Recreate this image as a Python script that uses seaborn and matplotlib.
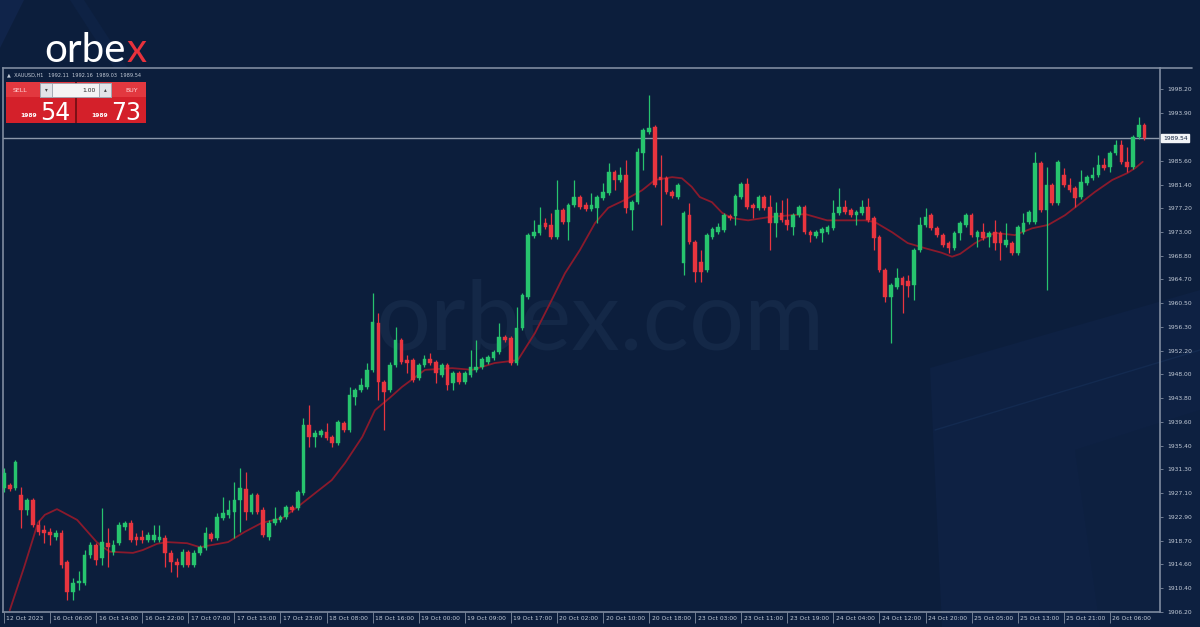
import numpy as np
import pandas as pd
import matplotlib
matplotlib.use("Agg")
import matplotlib.pyplot as plt
import seaborn as sns
from matplotlib.patches import Polygon, Rectangle
from matplotlib.lines import Line2D
from matplotlib.transforms import ScaledTranslation

# ---------------- data (XAUUSD H1) ----------------
opens = [1928.0, 1928.5, 1928.0, 1926.8, 1924.1, 1925.9, 1921.5, 1920.6, 1920.3, 1919.4,
         1920.1, 1915.0, 1909.7, 1911.3, 1911.3, 1916.2, 1918.0, 1915.7, 1918.3, 1916.8,
         1918.3, 1921.2, 1921.9, 1919.4, 1919.4, 1918.9, 1918.9, 1918.9, 1919.2, 1916.6,
         1915.0, 1914.5, 1916.8, 1914.5, 1916.6, 1917.5, 1919.9, 1919.2, 1922.7, 1923.3,
         1923.8, 1925.9, 1927.8, 1923.8, 1926.8, 1924.1, 1919.4, 1921.9, 1922.4, 1922.9,
         1924.7, 1924.5, 1927.1, 1939.1, 1937.0, 1937.3, 1937.9, 1937.0, 1935.9, 1939.5,
         1938.2, 1944.0, 1945.3, 1945.8, 1948.8, 1957.0, 1946.7, 1945.3, 1949.6, 1954.0,
         1950.5, 1950.5, 1947.4, 1949.6, 1950.7, 1950.2, 1947.9, 1949.6, 1946.5, 1948.2,
         1946.7, 1947.9, 1948.8, 1949.3, 1950.2, 1950.9, 1952.0, 1954.6, 1954.4, 1950.0,
         1956.2, 1961.6, 1972.3, 1972.9, 1974.6, 1974.3, 1972.2, 1976.9, 1974.8, 1977.8,
         1979.2, 1977.8, 1977.1, 1977.3, 1979.0, 1979.9, 1983.6, 1982.2, 1983.1, 1976.9,
         1978.3, 1986.9, 1990.6, 1991.5, 1982.7, 1982.5, 1980.1, 1979.2, 1967.6, 1976.0,
         1971.3, 1967.8, 1966.4, 1972.2, 1973.0, 1973.4, 1975.9, 1975.9, 1979.2, 1981.5,
         1977.8, 1977.3, 1979.2, 1977.4, 1974.6, 1976.4, 1975.1, 1973.9, 1976.0, 1977.4,
         1973.0, 1972.3, 1972.9, 1973.0, 1973.7, 1976.4, 1977.4, 1976.9, 1976.0, 1976.4,
         1977.4, 1975.5, 1972.2, 1966.4, 1961.6, 1963.4, 1965.0, 1964.4, 1963.7, 1969.9,
         1974.3, 1976.0, 1973.7, 1972.5, 1971.1, 1970.2, 1972.9, 1974.3, 1976.0, 1972.2,
         1973.0, 1972.2, 1973.0, 1972.9, 1970.8, 1971.1, 1969.4, 1973.0, 1974.8, 1974.8,
         1985.2, 1976.9, 1981.3, 1978.1, 1983.1, 1981.3, 1980.8, 1979.2, 1981.7, 1982.5,
         1983.1, 1984.8, 1984.5, 1986.9, 1988.4, 1985.4, 1984.5, 1989.8, 1991.9]
highs = [1931.5, 1928.9, 1932.9, 1928.2, 1926.3, 1926.3, 1922.4, 1921.5, 1921.0, 1920.6,
         1920.6, 1915.4, 1912.2, 1913.4, 1917.1, 1918.5, 1918.3, 1924.5, 1921.0, 1918.9,
         1922.0, 1922.2, 1922.4, 1920.1, 1920.6, 1920.3, 1921.5, 1921.5, 1919.8, 1917.1,
         1915.7, 1917.3, 1917.1, 1917.1, 1918.0, 1921.2, 1920.3, 1923.6, 1926.4, 1925.9,
         1929.1, 1931.5, 1930.8, 1927.1, 1927.1, 1924.7, 1922.4, 1924.7, 1923.3, 1925.0,
         1925.0, 1927.6, 1940.3, 1942.6, 1938.2, 1938.4, 1939.5, 1937.3, 1940.0, 1939.8,
         1945.8, 1945.6, 1947.4, 1950.0, 1962.3, 1958.8, 1947.0, 1950.2, 1956.3, 1954.4,
         1951.4, 1950.9, 1950.0, 1951.4, 1951.8, 1950.5, 1950.0, 1950.0, 1948.6, 1948.6,
         1948.6, 1952.3, 1954.0, 1951.1, 1951.4, 1952.3, 1957.0, 1954.9, 1954.7, 1959.9,
         1962.3, 1972.9, 1975.1, 1977.4, 1975.5, 1976.4, 1982.2, 1977.3, 1978.1, 1982.2,
         1979.6, 1978.3, 1979.9, 1979.6, 1981.7, 1985.2, 1983.9, 1984.5, 1985.7, 1978.7,
         1987.8, 1991.3, 1997.2, 1991.9, 1986.6, 1982.9, 1980.4, 1981.7, 1976.7, 1978.1,
         1971.6, 1969.9, 1972.9, 1973.9, 1974.6, 1976.4, 1976.2, 1979.7, 1981.8, 1982.5,
         1978.1, 1979.6, 1979.6, 1979.6, 1978.3, 1978.7, 1979.0, 1976.4, 1977.8, 1977.8,
         1973.4, 1973.4, 1973.9, 1974.3, 1978.7, 1980.8, 1978.7, 1977.3, 1976.9, 1978.7,
         1979.0, 1975.9, 1972.5, 1966.7, 1964.1, 1966.7, 1965.3, 1965.5, 1970.2, 1975.7,
         1977.3, 1976.4, 1974.1, 1972.9, 1971.5, 1973.2, 1975.0, 1976.4, 1976.4, 1973.4,
         1974.6, 1973.2, 1975.1, 1973.2, 1974.6, 1971.5, 1974.3, 1976.4, 1976.9, 1987.1,
         1985.5, 1984.5, 1981.7, 1985.7, 1984.3, 1982.5, 1981.1, 1983.9, 1983.1, 1984.5,
         1986.6, 1986.1, 1987.3, 1989.2, 1989.2, 1988.0, 1990.1, 1993.3, 1992.2]
lows = [1927.3, 1927.5, 1927.6, 1921.0, 1923.3, 1921.2, 1919.8, 1918.3, 1918.0, 1918.9,
        1913.9, 1908.3, 1908.3, 1910.1, 1911.0, 1915.7, 1914.5, 1914.5, 1914.1, 1916.2,
        1918.0, 1920.6, 1918.5, 1918.0, 1918.3, 1918.5, 1918.5, 1918.5, 1914.1, 1913.2,
        1912.4, 1914.1, 1914.1, 1914.1, 1916.2, 1917.1, 1918.7, 1918.9, 1922.4, 1922.7,
        1919.2, 1920.3, 1922.4, 1923.4, 1923.4, 1919.4, 1918.9, 1921.5, 1922.0, 1922.6,
        1923.8, 1924.1, 1926.8, 1935.2, 1935.2, 1937.0, 1936.5, 1935.2, 1935.6, 1937.9,
        1937.9, 1942.6, 1944.9, 1945.4, 1948.4, 1943.5, 1938.2, 1944.9, 1949.3, 1949.8,
        1948.2, 1946.7, 1947.0, 1949.3, 1949.6, 1946.5, 1947.5, 1945.3, 1945.3, 1946.3,
        1946.3, 1947.5, 1948.4, 1949.0, 1949.8, 1950.5, 1951.6, 1953.7, 1949.6, 1949.6,
        1955.8, 1961.3, 1972.0, 1972.5, 1973.6, 1971.8, 1971.8, 1974.5, 1971.6, 1977.4,
        1977.1, 1976.7, 1976.7, 1974.6, 1978.7, 1979.6, 1980.4, 1981.8, 1976.4, 1973.4,
        1978.0, 1983.9, 1990.3, 1981.0, 1974.3, 1979.7, 1979.0, 1978.9, 1965.5, 1971.0,
        1964.3, 1964.3, 1966.0, 1971.8, 1972.7, 1973.0, 1975.1, 1974.3, 1978.9, 1977.1,
        1975.5, 1976.9, 1976.9, 1969.9, 1972.2, 1974.8, 1973.4, 1972.5, 1975.7, 1972.7,
        1971.3, 1972.0, 1971.3, 1972.7, 1973.4, 1976.0, 1976.2, 1975.7, 1974.3, 1976.0,
        1974.8, 1969.9, 1966.0, 1960.7, 1953.5, 1963.0, 1958.8, 1961.6, 1961.1, 1969.5,
        1973.9, 1973.4, 1972.2, 1970.4, 1969.4, 1969.9, 1971.6, 1973.9, 1972.2, 1970.4,
        1971.6, 1970.4, 1969.9, 1968.1, 1970.4, 1969.0, 1969.0, 1972.7, 1974.5, 1974.5,
        1976.6, 1962.8, 1977.8, 1977.8, 1981.0, 1980.1, 1977.4, 1978.9, 1981.3, 1982.2,
        1982.7, 1983.9, 1983.6, 1986.6, 1985.0, 1983.6, 1984.1, 1989.4, 1989.2]
closes = [1930.7, 1927.8, 1932.6, 1924.1, 1925.9, 1921.5, 1920.3, 1920.1, 1919.8, 1920.1,
          1914.5, 1909.7, 1911.3, 1911.7, 1916.2, 1918.0, 1915.4, 1918.5, 1917.6, 1918.0,
          1921.5, 1921.9, 1918.9, 1918.9, 1918.9, 1919.8, 1919.8, 1919.4, 1916.6, 1915.0,
          1914.5, 1916.8, 1914.5, 1916.6, 1917.6, 1920.1, 1919.0, 1922.9, 1923.6, 1924.1,
          1925.9, 1928.0, 1923.8, 1926.8, 1923.8, 1919.8, 1921.9, 1922.6, 1922.9, 1924.7,
          1924.1, 1927.3, 1939.1, 1937.0, 1937.7, 1938.0, 1936.8, 1935.9, 1939.6, 1938.2,
          1944.4, 1945.3, 1946.1, 1948.8, 1957.2, 1946.7, 1944.9, 1949.6, 1954.0, 1950.2,
          1950.0, 1947.0, 1949.6, 1950.7, 1950.0, 1948.2, 1949.6, 1946.1, 1948.2, 1946.7,
          1948.2, 1949.3, 1949.3, 1950.7, 1951.1, 1952.0, 1954.6, 1954.0, 1950.0, 1956.2,
          1962.0, 1972.5, 1973.0, 1974.3, 1973.9, 1972.2, 1976.9, 1974.8, 1977.8, 1979.2,
          1977.4, 1977.1, 1977.8, 1979.2, 1980.1, 1983.6, 1982.2, 1983.1, 1977.3, 1978.3,
          1987.1, 1991.0, 1991.3, 1981.3, 1982.2, 1980.1, 1979.4, 1981.3, 1976.4, 1971.3,
          1966.0, 1966.0, 1972.5, 1973.6, 1973.9, 1976.0, 1975.5, 1979.4, 1981.5, 1977.4,
          1977.3, 1979.2, 1977.3, 1974.6, 1976.4, 1975.1, 1974.3, 1976.0, 1977.4, 1973.0,
          1972.5, 1973.0, 1973.6, 1973.9, 1976.4, 1977.4, 1976.6, 1976.0, 1976.6, 1977.4,
          1975.1, 1972.0, 1966.4, 1961.6, 1963.7, 1965.0, 1963.7, 1963.6, 1969.9, 1974.3,
          1975.7, 1973.7, 1972.5, 1970.8, 1970.2, 1972.9, 1974.6, 1976.0, 1972.5, 1973.0,
          1972.0, 1972.9, 1971.1, 1971.1, 1971.6, 1969.4, 1973.9, 1974.6, 1976.6, 1985.2,
          1976.9, 1981.3, 1978.1, 1985.4, 1981.3, 1980.4, 1979.0, 1981.8, 1982.7, 1983.1,
          1984.8, 1984.3, 1986.9, 1988.4, 1985.4, 1984.5, 1989.8, 1991.9, 1989.5]

# moving average, read as points (bar index, price)
ma_idx = [1.0, 3.5, 5.9, 7.1, 9.2, 12.7, 16.1, 17.2, 18.4, 22.4, 24.1, 26.6, 28.3, 31.8,
          34.0, 38.9, 41.8, 44.8, 48.3, 51.0, 54.0, 56.9, 59.2, 62.2, 64.4, 67.0, 69.1,
          73.1, 77.8, 81.3, 85.2, 89.2, 92.2, 95.1, 97.4, 100.0, 102.6, 104.9, 107.8,
          110.8, 113.0, 116.0, 117.7, 119.4, 120.8, 122.9, 124.7, 126.4, 129.2, 133.0,
          139.1, 142.9, 146.5, 149.5, 151.2, 154.2, 156.9, 159.9, 162.8, 164.6, 166.0,
          168.6, 172.0, 175.5, 178.5, 181.3, 184.2, 186.5, 189.4, 192.4, 195.0, 196.4, 197.7]
ma_val = [1906.5, 1914.1, 1921.9, 1923.3, 1924.3, 1922.4, 1918.5, 1917.6, 1916.8, 1916.6,
          1917.1, 1918.2, 1918.5, 1918.3, 1917.6, 1918.5, 1920.3, 1921.9, 1922.7, 1924.7,
          1927.1, 1929.4, 1932.4, 1937.0, 1941.7, 1943.9, 1945.8, 1948.8, 1949.1, 1948.8,
          1950.0, 1950.5, 1955.3, 1961.1, 1965.8, 1969.9, 1974.6, 1977.3, 1978.7, 1980.4,
          1982.2, 1982.7, 1982.5, 1981.0, 1979.2, 1978.3, 1976.4, 1975.5, 1975.1, 1975.7,
          1976.2, 1975.1, 1975.1, 1975.1, 1974.8, 1973.0, 1971.1, 1970.2, 1969.4, 1968.7,
          1969.2, 1971.1, 1972.9, 1972.5, 1973.7, 1974.3, 1976.0, 1977.8, 1980.1, 1982.2,
          1983.4, 1984.3, 1985.4]

ytick_vals = [1998.20, 1993.90, 1985.60, 1981.40, 1977.20, 1973.00, 1968.80, 1964.70,
              1960.50, 1956.30, 1952.20, 1948.00, 1943.80, 1939.60, 1935.40, 1931.30,
              1927.10, 1922.90, 1918.70, 1914.60, 1910.40, 1906.20]
xtick_labels = ["12 Oct 2023", "16 Oct 06:00", "16 Oct 14:00", "16 Oct 22:00",
                "17 Oct 07:00", "17 Oct 15:00", "17 Oct 23:00", "18 Oct 08:00",
                "18 Oct 16:00", "19 Oct 00:00", "19 Oct 09:00", "19 Oct 17:00",
                "20 Oct 02:00", "20 Oct 10:00", "20 Oct 18:00", "23 Oct 03:00",
                "23 Oct 11:00", "23 Oct 19:00", "24 Oct 04:00", "24 Oct 12:00",
                "24 Oct 20:00", "25 Oct 05:00", "25 Oct 13:00", "25 Oct 21:00",
                "26 Oct 06:00"]
bars_per_label = 8
bid_price = 1989.54
header = "\u25b2  XAUUSD,H1   1992.11  1992.16  1989.03  1989.54"
sell_big, sell_small = "54", "1989"
buy_big, buy_small = "73", "1989"
lot = "1.00"

# ---------------- style ----------------
BG = "#0c1e3c"
GREEN = "#27c46e"
RED = "#e8353f"
MA_C = "#8a1a2c"
AXC = "#7f8b9f"
TXT = "#c4ccd8"

sns.set_theme(style="dark")
plt.rcParams["font.family"] = ["DejaVu Sans"]

W, H = 1200, 627
fig = plt.figure(figsize=(12, 6.27), dpi=100, facecolor=BG)


def fx(x):
    return x / W


def fy(y):
    return 1 - y / H


# decorative background shapes (behind the axes)
deco = [
    ([(0, 0), (24, 0), (0, 48)], "#10244a"),
    ([(70, 0), (84, 0), (128, 68), (114, 68)], "#0e2244"),
    ([(930, 368), (1200, 290), (1200, 627), (942, 627)], "#0e2143"),
    ([(1075, 450), (1200, 410), (1200, 627), (1100, 627)], "#0d2040"),
]
for pts, col in deco:
    fig.add_artist(Polygon([(fx(a), fy(b)) for a, b in pts], closed=True,
                           transform=fig.transFigure, facecolor=col,
                           edgecolor="none", zorder=-2))
fig.add_artist(Line2D([fx(935), fx(1200)], [fy(430), fy(350)], transform=fig.transFigure,
                      color="#132a50", lw=1.0, zorder=-2))

# watermark
fig.text(fx(600), fy(322), "orbex.com", ha="center", va="center", fontsize=70,
         family="Lato", color="#142847", zorder=-1)

# ---------------- main axes ----------------
ax = fig.add_axes([fx(3), fy(612), (1160 - 3) / W, (612 - 68) / H])
ax.set_facecolor("none")

n = len(opens)
df = pd.DataFrame({"i": np.arange(n), "o": opens, "h": highs, "l": lows, "c": closes})
df["up"] = df["c"] >= df["o"]
cols = np.where(df["up"], GREEN, RED)

ax.vlines(df["i"], df["l"], df["h"], colors=cols, lw=0.9, zorder=3)
ax.bar(df["i"], (df["c"] - df["o"]).abs(), bottom=np.minimum(df["o"], df["c"]),
       width=0.64, color=cols, edgecolor=cols, lw=0.3, zorder=4)

ma_df = pd.DataFrame({"i": ma_idx, "v": ma_val})
sns.lineplot(data=ma_df, x="i", y="v", ax=ax, color=MA_C, lw=1.3, zorder=2,
             sort=False, estimator=None)

ax.axhline(bid_price, color="#8b97aa", lw=1.0, zorder=1)

ax.set_xlim(-0.17, 200.7)
ax.set_ylim(1906.2, 2001.9)
ax.set_xlabel("")
ax.set_ylabel("")
ax.grid(False)

for s in ax.spines.values():
    s.set_visible(True)
    s.set_color(AXC)
    s.set_linewidth(1.2)

ax.yaxis.tick_right()
ax.set_yticks(ytick_vals)
ax.set_yticklabels([f"{v:.2f}" for v in ytick_vals])
ax.tick_params(axis="y", which="both", right=True, left=False, direction="out",
               length=2.5, width=0.6, color=AXC, labelsize=4.3, labelcolor=TXT, pad=3)

xt = [k * bars_per_label for k in range(len(xtick_labels))]
ax.set_xticks(xt)
ax.set_xticklabels(xtick_labels, ha="left")
ax.tick_params(axis="x", which="both", bottom=True, direction="out", length=8,
               width=0.6, color=AXC, labelsize=4.3, labelcolor=TXT, pad=-5)
for lab in ax.get_xticklabels():
    lab.set_transform(lab.get_transform() + ScaledTranslation(2.5 / 100, 0, fig.dpi_scale_trans))

# bid price label on the axis
ax.text(1.0025, bid_price, f"{bid_price:.2f}", transform=ax.get_yaxis_transform(),
        ha="left", va="center", fontsize=4.3, color="#0c1e3c", clip_on=False,
        bbox=dict(boxstyle="square,pad=0.25", fc="#f2f4f7", ec="#f2f4f7"), zorder=6)

# extend top border to the right
fig.add_artist(Line2D([fx(1160), fx(1192)], [fy(68), fy(68)], transform=fig.transFigure,
                      color=AXC, lw=1.2))

# ---------------- header / trading panel ----------------
fig.text(fx(7), fy(75), header, ha="left", va="center", fontsize=3.6, color=TXT)


def rect(x0, y0, x1, y1, col, z=5, ec="none", lw=0):
    fig.add_artist(Rectangle((fx(x0), fy(y1)), fx(x1) - fx(x0), fy(y0) - fy(y1),
                             transform=fig.transFigure, facecolor=col, edgecolor=ec,
                             lw=lw, zorder=z))


rect(6, 82, 75, 123, "#d4202a")
rect(77, 82, 146, 123, "#d4202a")
rect(6, 82, 75, 97, "#e2383f")
rect(77, 82, 146, 97, "#e2383f")
rect(75, 82, 77, 123, "#7d1016", z=6)
rect(40, 83, 111, 97, "#f4f4f4", z=6, ec="#9aa3ad", lw=0.6)
rect(40, 83, 52, 97, "#e2e4e8", z=6, ec="#9aa3ad", lw=0.6)
rect(99, 83, 111, 97, "#e2e4e8", z=6, ec="#9aa3ad", lw=0.6)

fig.text(fx(46), fy(90), "\u25be", ha="center", va="center", fontsize=4, color="#444", zorder=7)
fig.text(fx(105), fy(90), "\u25b4", ha="center", va="center", fontsize=4, color="#444", zorder=7)
fig.text(fx(96), fy(90), lot, ha="right", va="center", fontsize=4.3, color="#222", zorder=7)
fig.text(fx(13), fy(90), "SELL", ha="left", va="center", fontsize=4.5, color="#ffd9da", zorder=7)
fig.text(fx(138), fy(90), "BUY", ha="right", va="center", fontsize=4.5, color="#ffd9da", zorder=7)
fig.text(fx(37), fy(117), sell_small, ha="right", va="baseline", fontsize=4.3,
         color="white", weight="bold", zorder=7)
fig.text(fx(40), fy(120), sell_big, ha="left", va="baseline", fontsize=17,
         color="white", zorder=7)
fig.text(fx(108), fy(117), buy_small, ha="right", va="baseline", fontsize=4.3,
         color="white", weight="bold", zorder=7)
fig.text(fx(111), fy(120), buy_big, ha="left", va="baseline", fontsize=17,
         color="white", zorder=7)

# ---------------- logo ----------------
t1 = fig.text(fx(44), fy(62), "orbe", ha="left", va="baseline", fontsize=29,
              family="Lato", color="white")
fig.canvas.draw()
bb = t1.get_window_extent(renderer=fig.canvas.get_renderer())
fig.text(bb.x1 / fig.bbox.width + 0.0008, fy(62), "x", ha="left", va="baseline",
         fontsize=29, family="Lato", color="#e8323c")

fig.savefig("out.png", dpi=100, facecolor=BG)
